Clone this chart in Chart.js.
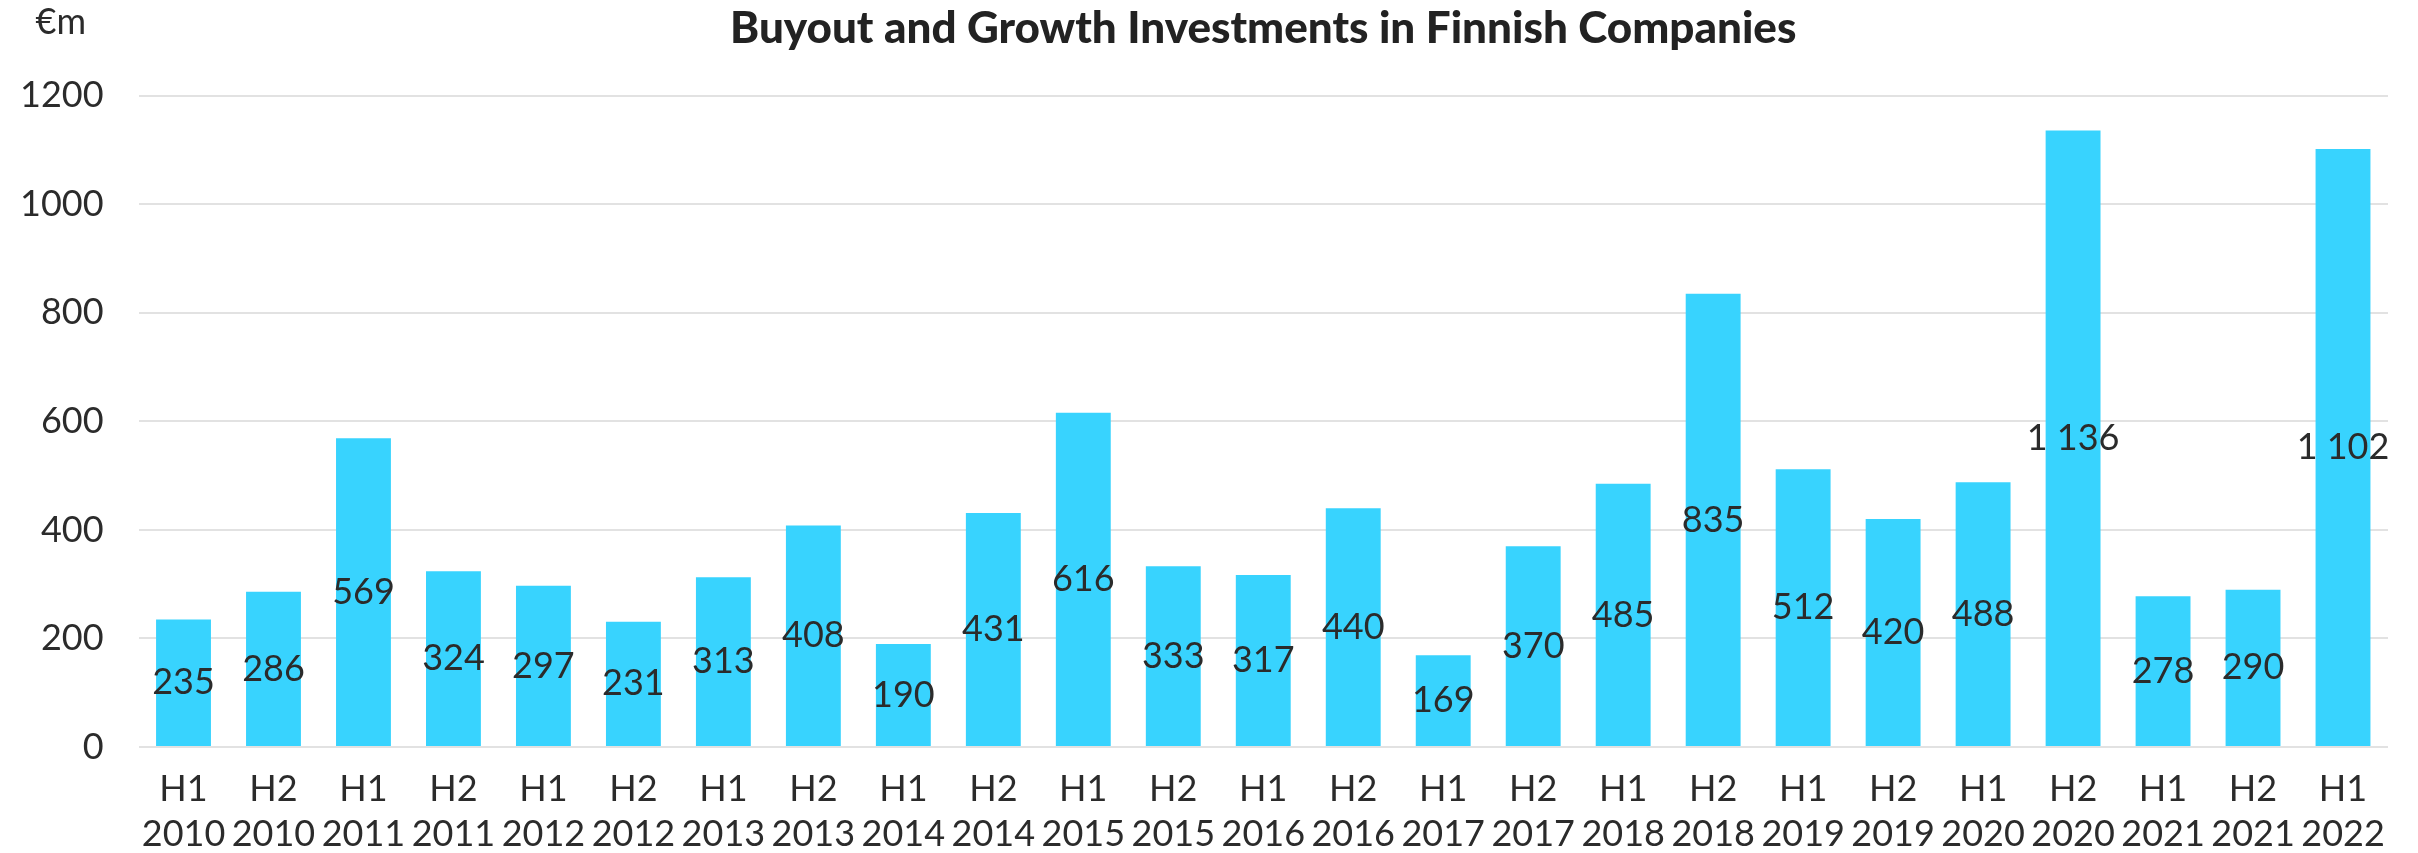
<!DOCTYPE html>
<html>
<head>
<meta charset="utf-8">
<script src="https://cdn.jsdelivr.net/npm/chart.js@4/dist/chart.umd.min.js"></script>
<style>
  body { margin: 0; background: #fff; }
  #wrap { width: 2418px; height: 853px; }
</style>
</head>
<body>
<div id="wrap"><canvas id="chart"></canvas></div>
<script>
// half-year periods
const halves = ['H1', 'H2', 'H1', 'H2', 'H1', 'H2', 'H1', 'H2', 'H1', 'H2', 'H1', 'H2', 'H1',
    'H2', 'H1', 'H2', 'H1', 'H2', 'H1', 'H2', 'H1', 'H2', 'H1', 'H2', 'H1'];
const years = ['2010', '2010', '2011', '2011', '2012', '2012', '2013', '2013', '2014', '2014',
    '2015', '2015', '2016', '2016', '2017', '2017', '2018', '2018', '2019', '2019',
    '2020', '2020', '2021', '2021', '2022'];
// investments, €m
const investments = [235, 286, 569, 324, 297, 231, 313, 408, 190, 431, 616, 333, 317, 440,
    169, 370, 485, 835, 512, 420, 488, 1136, 278, 290, 1102];

const yTicks = [0, 200, 400, 600, 800, 1000, 1200];

const textColor = '#2b2b2b';
const fontFamily = 'Lato, "Noto Sans", sans-serif';

function fmt(v) {
    // finnish style thousands separator
    return v >= 1000 ? Math.floor(v / 1000) + ' ' + String(v % 1000).padStart(3, '0') : String(v);
}

// value labels in the middle of each bar
const valueLabels = {
    id: 'valueLabels',
    afterDatasetsDraw(chart) {
        const ctx = chart.ctx;
        const meta = chart.getDatasetMeta(0);
        ctx.save();
        ctx.font = '36px ' + fontFamily;
        ctx.fillStyle = textColor;
        ctx.textAlign = 'center';
        ctx.textBaseline = 'middle';
        meta.data.forEach((bar, i) => {
            const p = bar.getProps(['x', 'y', 'base'], true);
            ctx.fillText(fmt(investments[i]), p.x, (p.y + p.base) / 2);
        });
        ctx.restore();
    }
};

// unit text above the y axis
const unitLabel = {
    id: 'unitLabel',
    afterDraw(chart) {
        const ctx = chart.ctx;
        const tb = chart.titleBlock;
        ctx.save();
        ctx.font = '36px ' + fontFamily;
        ctx.fillStyle = textColor;
        ctx.textAlign = 'left';
        ctx.textBaseline = 'middle';
        ctx.fillText('€m', chart.chartArea.left - 103, tb.top + 22);
        ctx.restore();
    }
};

const labels = halves.map((h, i) => [h, years[i]]);

new Chart(document.getElementById('chart').getContext('2d'), {
    type: 'bar',
    data: {
        labels: labels,
        datasets: [{
            label: 'Investments',
            data: investments,
            backgroundColor: '#38d3fe',
            categoryPercentage: 1,
            barPercentage: 0.61
        }]
    },
    options: {
        responsive: true,
        maintainAspectRatio: false,
        animation: false,
        layout: { padding: { left: -15, right: 30, top: 0, bottom: -24 } },
        plugins: {
            legend: { display: false },
            tooltip: { enabled: false },
            title: {
                display: true,
                fullSize: false,
                text: 'Buyout and Growth Investments in Finnish Companies',
                color: '#222',
                font: { family: fontFamily, size: 44, weight: '900' },
                padding: { top: 2, bottom: 41 }
            }
        },
        scales: {
            x: {
                grid: { display: false, drawTicks: false },
                border: { display: false },
                ticks: {
                    color: textColor,
                    font: { family: fontFamily, size: 36, lineHeight: 1.25 },
                    padding: 20,
                    maxRotation: 0,
                    autoSkip: false
                }
            },
            y: {
                min: 0,
                max: 1200,
                afterBuildTicks(scale) {
                    scale.ticks = yTicks.map(v => ({ value: v }));
                },
                grid: { color: '#e2e2e2', lineWidth: 2, drawTicks: false },
                border: { display: false },
                ticks: {
                    color: textColor,
                    font: { family: fontFamily, size: 36 },
                    padding: 35,
                    callback: v => String(v)
                }
            }
        }
    },
    plugins: [valueLabels, unitLabel]
});
</script>
</body>
</html>
